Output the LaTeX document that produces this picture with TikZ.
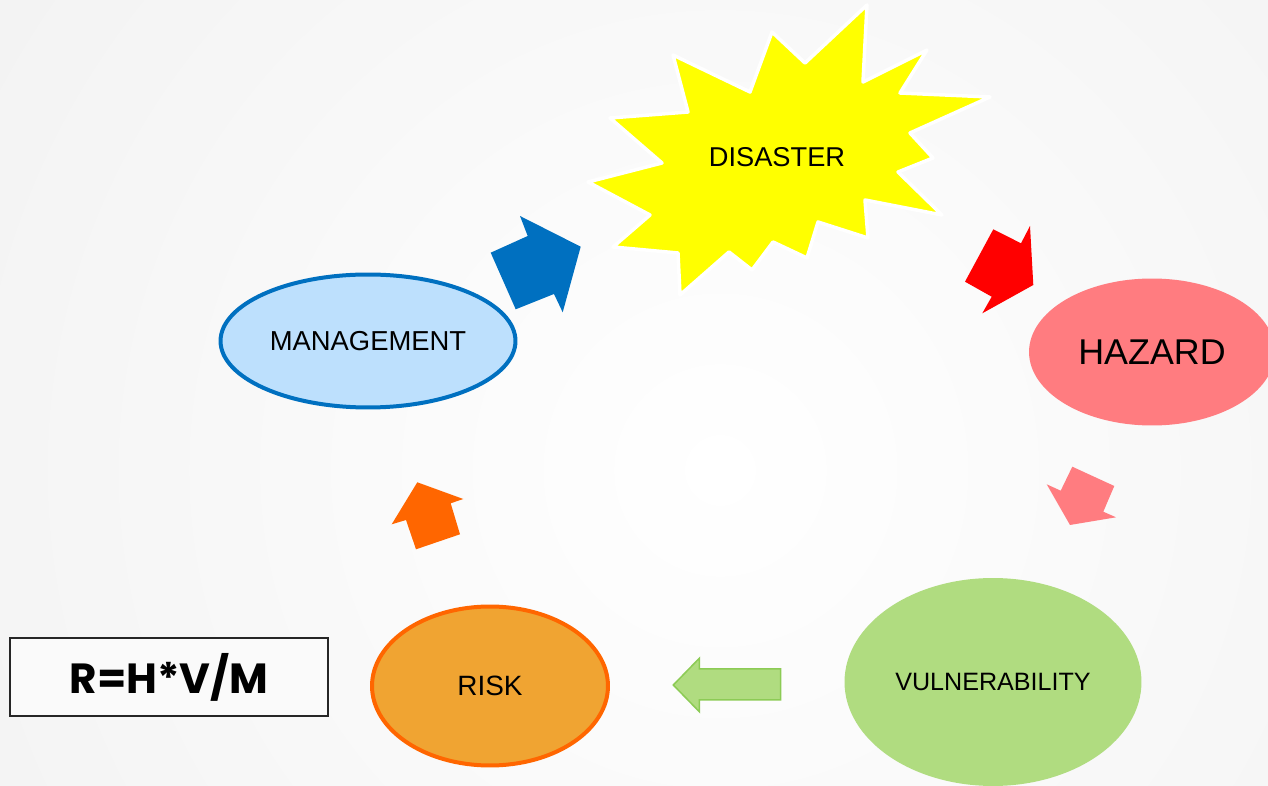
\documentclass[tikz,border=0pt]{standalone}
\usepackage{fontspec}
\setmainfont{Liberation Sans}
\newfontfamily\formfont{Poppins}
\usetikzlibrary{shapes.geometric}
\definecolor{bgray}{HTML}{F3F3F3}
\definecolor{mgfill}{HTML}{BDE0FD}
\definecolor{mgline}{HTML}{0070C0}
\definecolor{hzfill}{HTML}{FF7C80}
\definecolor{vufill}{HTML}{B0DC80}
\definecolor{vuline}{HTML}{8CCB55}
\definecolor{rkfill}{HTML}{F0A432}
\definecolor{rkline}{HTML}{FF6600}
\definecolor{sunyel}{HTML}{FFFF00}
\tikzset{
  ell/.style={ellipse, inner sep=0pt, text=black},
  blockarrow/.style={line join=miter},
  lbl/.style={text=black, inner sep=0pt}
}
\begin{document}
\begin{tikzpicture}[x=0.02cm,y=-0.02cm]
\useasboundingbox (0,0) rectangle (1268,786);
\clip (0,0) rectangle (1268,786);
\fill[bgray] (0,0) rectangle (1268,786);
\shade[inner color=white, outer color=bgray] (720,470) circle (17cm);
% starburst
\draw[draw=white, line width=0.07cm, fill=sunyel, line join=round]
 (867,5) -- (863,82) -- (927,50) -- (900,93) -- (990,97) -- (910,133) -- (933,158)
 -- (898,172) -- (942,215) -- (865,200) -- (868,238) -- (818,222) -- (807,258)
 -- (773,242) -- (752,270) -- (729,252) -- (680,295) -- (678,253) -- (613,247)
 -- (650,215) -- (588,182) -- (662,163) -- (610,118) -- (688,112) -- (673,55)
 -- (750,92) -- (772,32) -- (805,63) -- cycle;
\node[lbl, font=\fontsize{15.5}{18}\selectfont] (dis) at (777,157) {DISASTER};
% ellipses
\node[ell, fill=mgfill, draw=mgline, line width=0.08cm, minimum width=5.9cm, minimum height=2.66cm,
  font=\fontsize{15.6}{18}\selectfont] (man) at (368,341) {MANAGEMENT};
\node[ell, fill=hzfill, minimum width=4.92cm, minimum height=2.94cm,
  font=\fontsize{20.4}{24}\selectfont] (haz) at (1152,352) {HAZARD};
\node[ell, fill=vufill, minimum width=5.94cm, minimum height=4.16cm,
  font=\fontsize{14.3}{17}\selectfont] (vul) at (993,682) {VULNERABILITY};
\node[ell, fill=rkfill, draw=rkline, line width=0.08cm, minimum width=4.72cm, minimum height=3.18cm,
  font=\fontsize{15.9}{18}\selectfont] (risk) at (490,686) {RISK};
% formula box
\node[draw=black!85, line width=0.03cm, fill=white!60!bgray, minimum width=6.36cm, minimum height=1.56cm,
  font=\formfont\bfseries\fontsize{24}{29}\selectfont] (form) at (169,677) {R=H*V/M};
% block arrows
\fill[mgline, blockarrow] (580.7,246.7) -- (520,216) -- (527.7,236) -- (490.7,252.7)
 -- (515.7,309.3) -- (554,294) -- (562.7,312.3) -- cycle;
\fill[red, blockarrow] (1033.3,285) -- (1030,226) -- (1021,243.3) -- (993.3,229.3)
 -- (965,281.7) -- (991.7,296.7) -- (982.3,313.3) -- cycle;
\fill[hzfill, blockarrow] (1070,525) -- (1046.7,484.3) -- (1060.7,490.7) -- (1072.3,466.7)
 -- (1114.3,486) -- (1103.3,511.7) -- (1116,517.3) -- cycle;
\fill[rkline, blockarrow] (417.3,482.3) -- (463.3,499) -- (450.7,503.3) -- (460,534.3)
 -- (416,549.3) -- (406,520) -- (391.7,524.3) -- cycle;
\filldraw[fill=vufill, draw=vuline, line width=0.03cm, blockarrow] (673.3,685) -- (699.3,658.3)
 -- (699.3,669) -- (780.7,669) -- (780.7,700) -- (699.3,700) -- (699.3,711.7) -- cycle;
\end{tikzpicture}
\end{document}
